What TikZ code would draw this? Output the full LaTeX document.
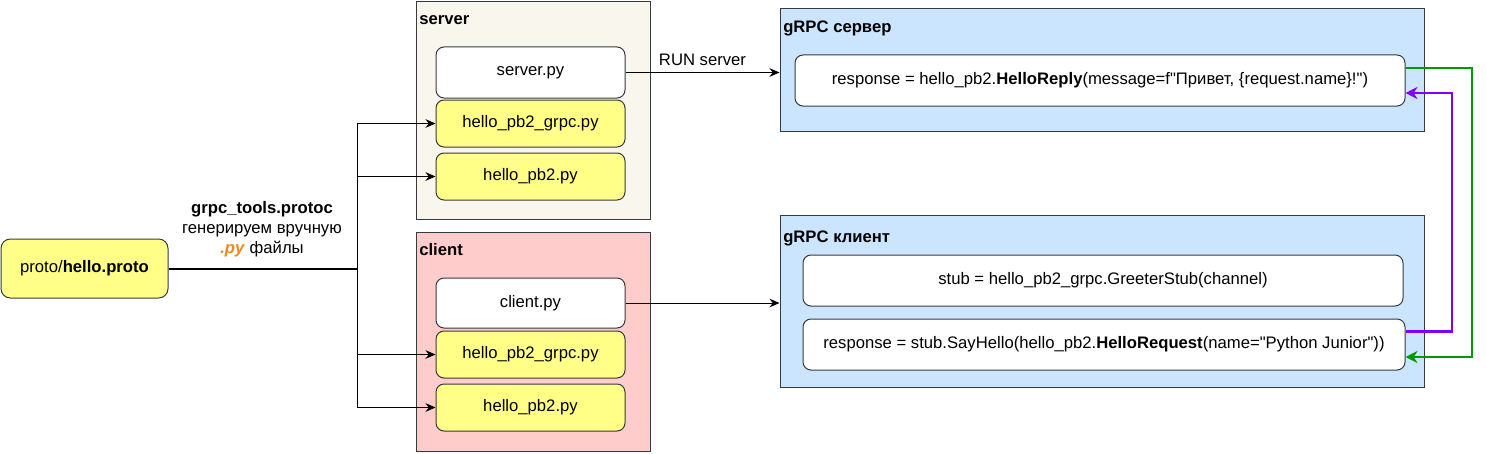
\documentclass[tikz,border=0pt]{standalone}
\usepackage{fontspec}
\setmainfont{Liberation Sans}[Ligatures=TeXOff]
\usetikzlibrary{arrows.meta}
\definecolor{yellowfill}{HTML}{FFFF88}
\definecolor{darkline}{HTML}{36393D}
\definecolor{srvfill}{HTML}{F9F7ED}
\definecolor{clifill}{HTML}{FFCCCC}
\definecolor{rpcfill}{HTML}{CCE5FF}
\definecolor{pyorange}{HTML}{EE8822}
\definecolor{retgreen}{HTML}{009900}
\definecolor{reqpurple}{HTML}{7F00FF}
\begin{document}
\begin{tikzpicture}[x=0.75pt,y=-0.75pt,
    every node/.style={font=\fontsize{12.5}{14}\selectfont,inner sep=0pt},
    cont/.style={draw=darkline,line width=0.75pt,minimum width=#1},
    filebox/.style={draw=darkline,line width=0.75pt,rounded corners=6pt,fill=white,minimum width=141.75pt,minimum height=37.5pt},
    genbox/.style={filebox,fill=yellowfill,minimum height=35.25pt},
    codebox/.style={draw=darkline,line width=0.75pt,rounded corners=6pt,fill=white,minimum height=38.25pt,minimum width=#1},
    title/.style={anchor=west,font=\fontsize{12.5}{14}\selectfont\bfseries},
    arr/.style={line width=0.75pt,-{Stealth[length=7.5pt,width=6.5pt]}},
    back/.style={line width=2.1pt,-{Stealth[length=9pt,width=9pt]}}]
    \useasboundingbox (0,0) rectangle (1487,453);
    % containers
    \node[cont=175.5pt,fill=srvfill,minimum height=162.75pt] (server) at (533,110.5) {};
    \node[cont=175.5pt,fill=clifill,minimum height=164.25pt] (client) at (533,341.5) {};
    \node[cont=483pt,fill=rpcfill,minimum height=91.5pt] (rpcsrv) at (1102,70) {};
    \node[cont=483pt,fill=rpcfill,minimum height=129pt] (rpccli) at (1102,301) {};
    \node[title] at (419,20) {server};
    \node[title] at (419,250) {client};
    \node[title] at (783,28) {gRPC сервер};
    \node[title] at (783,238) {gRPC клиент};
    % files
    \node[filebox,minimum height=38.25pt] (srvpy) at (530.5,72.5) {server.py};
    \node[genbox] (srvgrpc) at (530.5,123.5) {hello\_pb2\_grpc.py};
    \node[genbox] (srvpb) at (530.5,176.5) {hello\_pb2.py};
    \node[filebox] (clipy) at (530.5,303) {client.py};
    \node[genbox] (cligrpc) at (530.5,354.5) {hello\_pb2\_grpc.py};
    \node[genbox] (clipb) at (530.5,407.5) {hello\_pb2.py};
    % code
    \node[codebox=457.5pt] (srvresp) at (1100,80.5) {response = hello\_pb2.\textbf{HelloReply}(message=f"Привет, \{request.name\}!")};
    \node[codebox=450pt] (stub) at (1103,280.5) {stub = hello\_pb2\_grpc.GreeterStub(channel)};
    \node[codebox=451.5pt] (cliresp) at (1104,344.5) {response = stub.SayHello(hello\_pb2.\textbf{HelloRequest}(name="Python Junior"))};
    % proto
    \node[draw=darkline,line width=0.75pt,rounded corners=7pt,fill=yellowfill,minimum width=125.25pt,minimum height=44.25pt] (proto) at (84.5,268.5) {proto/\textbf{hello.proto}};
    \node[align=center,font=\fontsize{12.5}{15}\selectfont] (protoc) at (262,229.5) {\textbf{grpc\_tools.protoc}\\генерируем вручную\\\textcolor{pyorange}{\textbf{\textit{.py}}} файлы};
    \coordinate (split) at (357,268.5);
    \draw[line width=1.5pt] (proto.east) -- (split);
    \foreach \f in {srvgrpc,srvpb,cligrpc,clipb}
    {
    \draw[arr] (split) |- (\f.west);
    }
    \draw[arr] (srvpy.east) -- node[above=5pt] {RUN server} (srvpy.east -| rpcsrv.west);
    \draw[arr] (clipy.east) -- (clipy.east -| rpccli.west);
    \draw[back,retgreen] (srvresp.east |- 0,68) -| (1472,357) -- (cliresp.east |- 0,357);
    \draw[back,reqpurple] (cliresp.east |- 0,331.5) -| (1452,93) -- (srvresp.east |- 0,93);
\end{tikzpicture}
\end{document}
